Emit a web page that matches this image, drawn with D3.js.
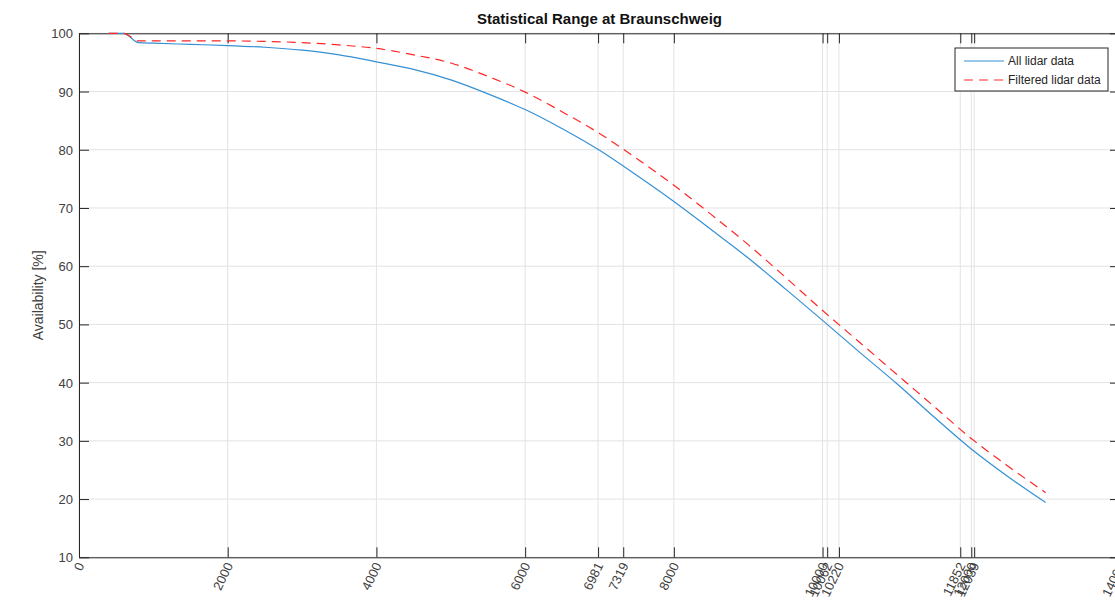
<!DOCTYPE html>
<html>
<head>
<meta charset="utf-8">
<script src="https://cdn.jsdelivr.net/npm/d3@7"></script>
<style>
  body { margin: 0; background: #fff; }
  svg { display: block; font-family: 'Liberation Sans', Arial, Helvetica, sans-serif; }
</style>
</head>
<body>
<div id="svg-container"></div>
<script>
// Data
const ranges = [400, 600, 800, 1000, 1500, 2000, 2500, 3000, 3500, 4000, 4500, 5000, 5500, 6000, 6500,
  7000, 7500, 8000, 8500, 9000, 9500, 10000, 10500, 11000, 11500, 12000, 12500, 13000]
const allLidar = [100, 100, 98.4, 98.3, 98.1, 97.9, 97.6, 97.1, 96.3, 95.1, 93.8, 92.0, 89.6, 86.9, 83.6,
  79.9, 75.6, 71.1, 66.3, 61.4, 56.1, 50.7, 45.2, 39.8, 34.1, 28.6, 23.8, 19.4]
const filteredLidar = [100, 100, 98.7, 98.7, 98.7, 98.7, 98.6, 98.4, 98.0, 97.4, 96.3, 94.9, 92.6, 89.9, 86.5,
  82.8, 78.5, 73.9, 68.9, 63.7, 58.1, 52.4, 46.9, 41.4, 35.9, 30.4, 25.6, 21.1]
const xTicks = [0, 2000, 4000, 6000, 6981, 7319, 8000, 10000, 10062, 10220, 11852, 12000, 12039, 14000]
const yTicks = [10, 20, 30, 40, 50, 60, 70, 80, 90, 100]
const seriesNames = ['All lidar data', 'Filtered lidar data']

const width = 1115
const height = 606
const margin = { top: 33.3, left: 79, right: 1120, bottom: 557.3 }
const axisColor = '#262626'
const gridColor = '#e3e3e3'
const blue = '#3590d4'
const red = '#ff2626'
const tickLen = 10

const svg = d3.select('#svg-container')
  .append('svg')
  .attr('width', width)
  .attr('height', height)

const xScale = d3.scaleLinear().domain([0, 14000]).range([margin.left, margin.right])
const yScale = d3.scaleLinear().domain([10, 100]).range([margin.bottom, margin.top])

// grid
svg.append('g')
  .selectAll('line')
  .data(xTicks)
  .join('line')
  .attr('x1', d => xScale(d))
  .attr('x2', d => xScale(d))
  .attr('y1', margin.top)
  .attr('y2', margin.bottom)
  .attr('stroke', gridColor)
  .attr('stroke-width', 1)

svg.append('g')
  .selectAll('line')
  .data(yTicks)
  .join('line')
  .attr('x1', margin.left)
  .attr('x2', margin.right)
  .attr('y1', d => yScale(d))
  .attr('y2', d => yScale(d))
  .attr('stroke', gridColor)
  .attr('stroke-width', 1)

// axes (MATLAB box style, ticks pointing inward)
const bottomAxis = svg.append('g')
  .attr('transform', `translate(0, ${margin.bottom})`)
  .call(d3.axisBottom(xScale).tickValues(xTicks).tickSize(-tickLen).tickSizeOuter(0).tickFormat(d3.format('d')))
const topAxis = svg.append('g')
  .attr('transform', `translate(0, ${margin.top})`)
  .call(d3.axisTop(xScale).tickValues(xTicks).tickSize(-tickLen).tickSizeOuter(0).tickFormat(''))
const leftAxis = svg.append('g')
  .attr('transform', `translate(${margin.left}, 0)`)
  .call(d3.axisLeft(yScale).tickValues(yTicks).tickSize(-tickLen).tickSizeOuter(0).tickPadding(6))
const rightAxis = svg.append('g')
  .attr('transform', `translate(${margin.right}, 0)`)
  .call(d3.axisRight(yScale).tickValues(yTicks).tickSize(-tickLen).tickSizeOuter(0).tickFormat(''))

;[bottomAxis, topAxis, leftAxis, rightAxis].forEach(g => {
  g.select('.domain').attr('stroke', axisColor).attr('stroke-width', 1)
  g.selectAll('.tick line').attr('stroke', axisColor).attr('stroke-width', 1)
  g.selectAll('text').attr('fill', '#404040').style('font-size', '13px')
})

leftAxis.selectAll('text').attr('dy', '0.35em')

bottomAxis.selectAll('text')
  .attr('text-anchor', 'end')
  .attr('transform', 'translate(1, 6) rotate(-64)')
  .attr('x', 0)
  .attr('y', 0)
  .attr('dy', '0.35em')

// lines
const line = d3.line()
  .curve(d3.curveMonotoneX)
  .x((d, i) => xScale(ranges[i]))
  .y(d => yScale(d))

svg.append('path')
  .datum(allLidar)
  .attr('fill', 'none')
  .attr('stroke', blue)
  .attr('stroke-width', 1.2)
  .attr('d', line)

svg.append('path')
  .datum(filteredLidar)
  .attr('fill', 'none')
  .attr('stroke', red)
  .attr('stroke-width', 1.2)
  .attr('stroke-dasharray', '9,6')
  .attr('d', line)

// title
svg.append('text')
  .attr('x', (margin.left + margin.right) / 2)
  .attr('y', 24)
  .attr('text-anchor', 'middle')
  .attr('fill', '#111')
  .style('font-size', '15px')
  .style('font-weight', 'bold')
  .text('Statistical Range at Braunschweig')

// y label
svg.append('text')
  .attr('transform', `translate(43, ${(margin.top + margin.bottom) / 2}) rotate(-90)`)
  .attr('text-anchor', 'middle')
  .attr('fill', '#404040')
  .style('font-size', '14px')
  .text('Availability [%]')

// legend
const legend = svg.append('g').attr('transform', 'translate(955, 48)')
legend.append('rect')
  .attr('width', 153)
  .attr('height', 43)
  .attr('fill', '#fff')
  .attr('stroke', axisColor)
  .attr('stroke-width', 1)

const legendStyles = [
  { color: blue, dash: null },
  { color: red, dash: '9,6' },
]
seriesNames.forEach((name, i) => {
  const y = 13 + i * 19
  legend.append('line')
    .attr('x1', 9)
    .attr('x2', 49)
    .attr('y1', y)
    .attr('y2', y)
    .attr('stroke', legendStyles[i].color)
    .attr('stroke-width', 1.2)
    .attr('stroke-dasharray', legendStyles[i].dash)
  legend.append('text')
    .attr('x', 53)
    .attr('y', y)
    .attr('dy', '0.35em')
    .attr('fill', '#262626')
    .style('font-size', '12px')
    .text(name)
})
</script>
</body>
</html>
